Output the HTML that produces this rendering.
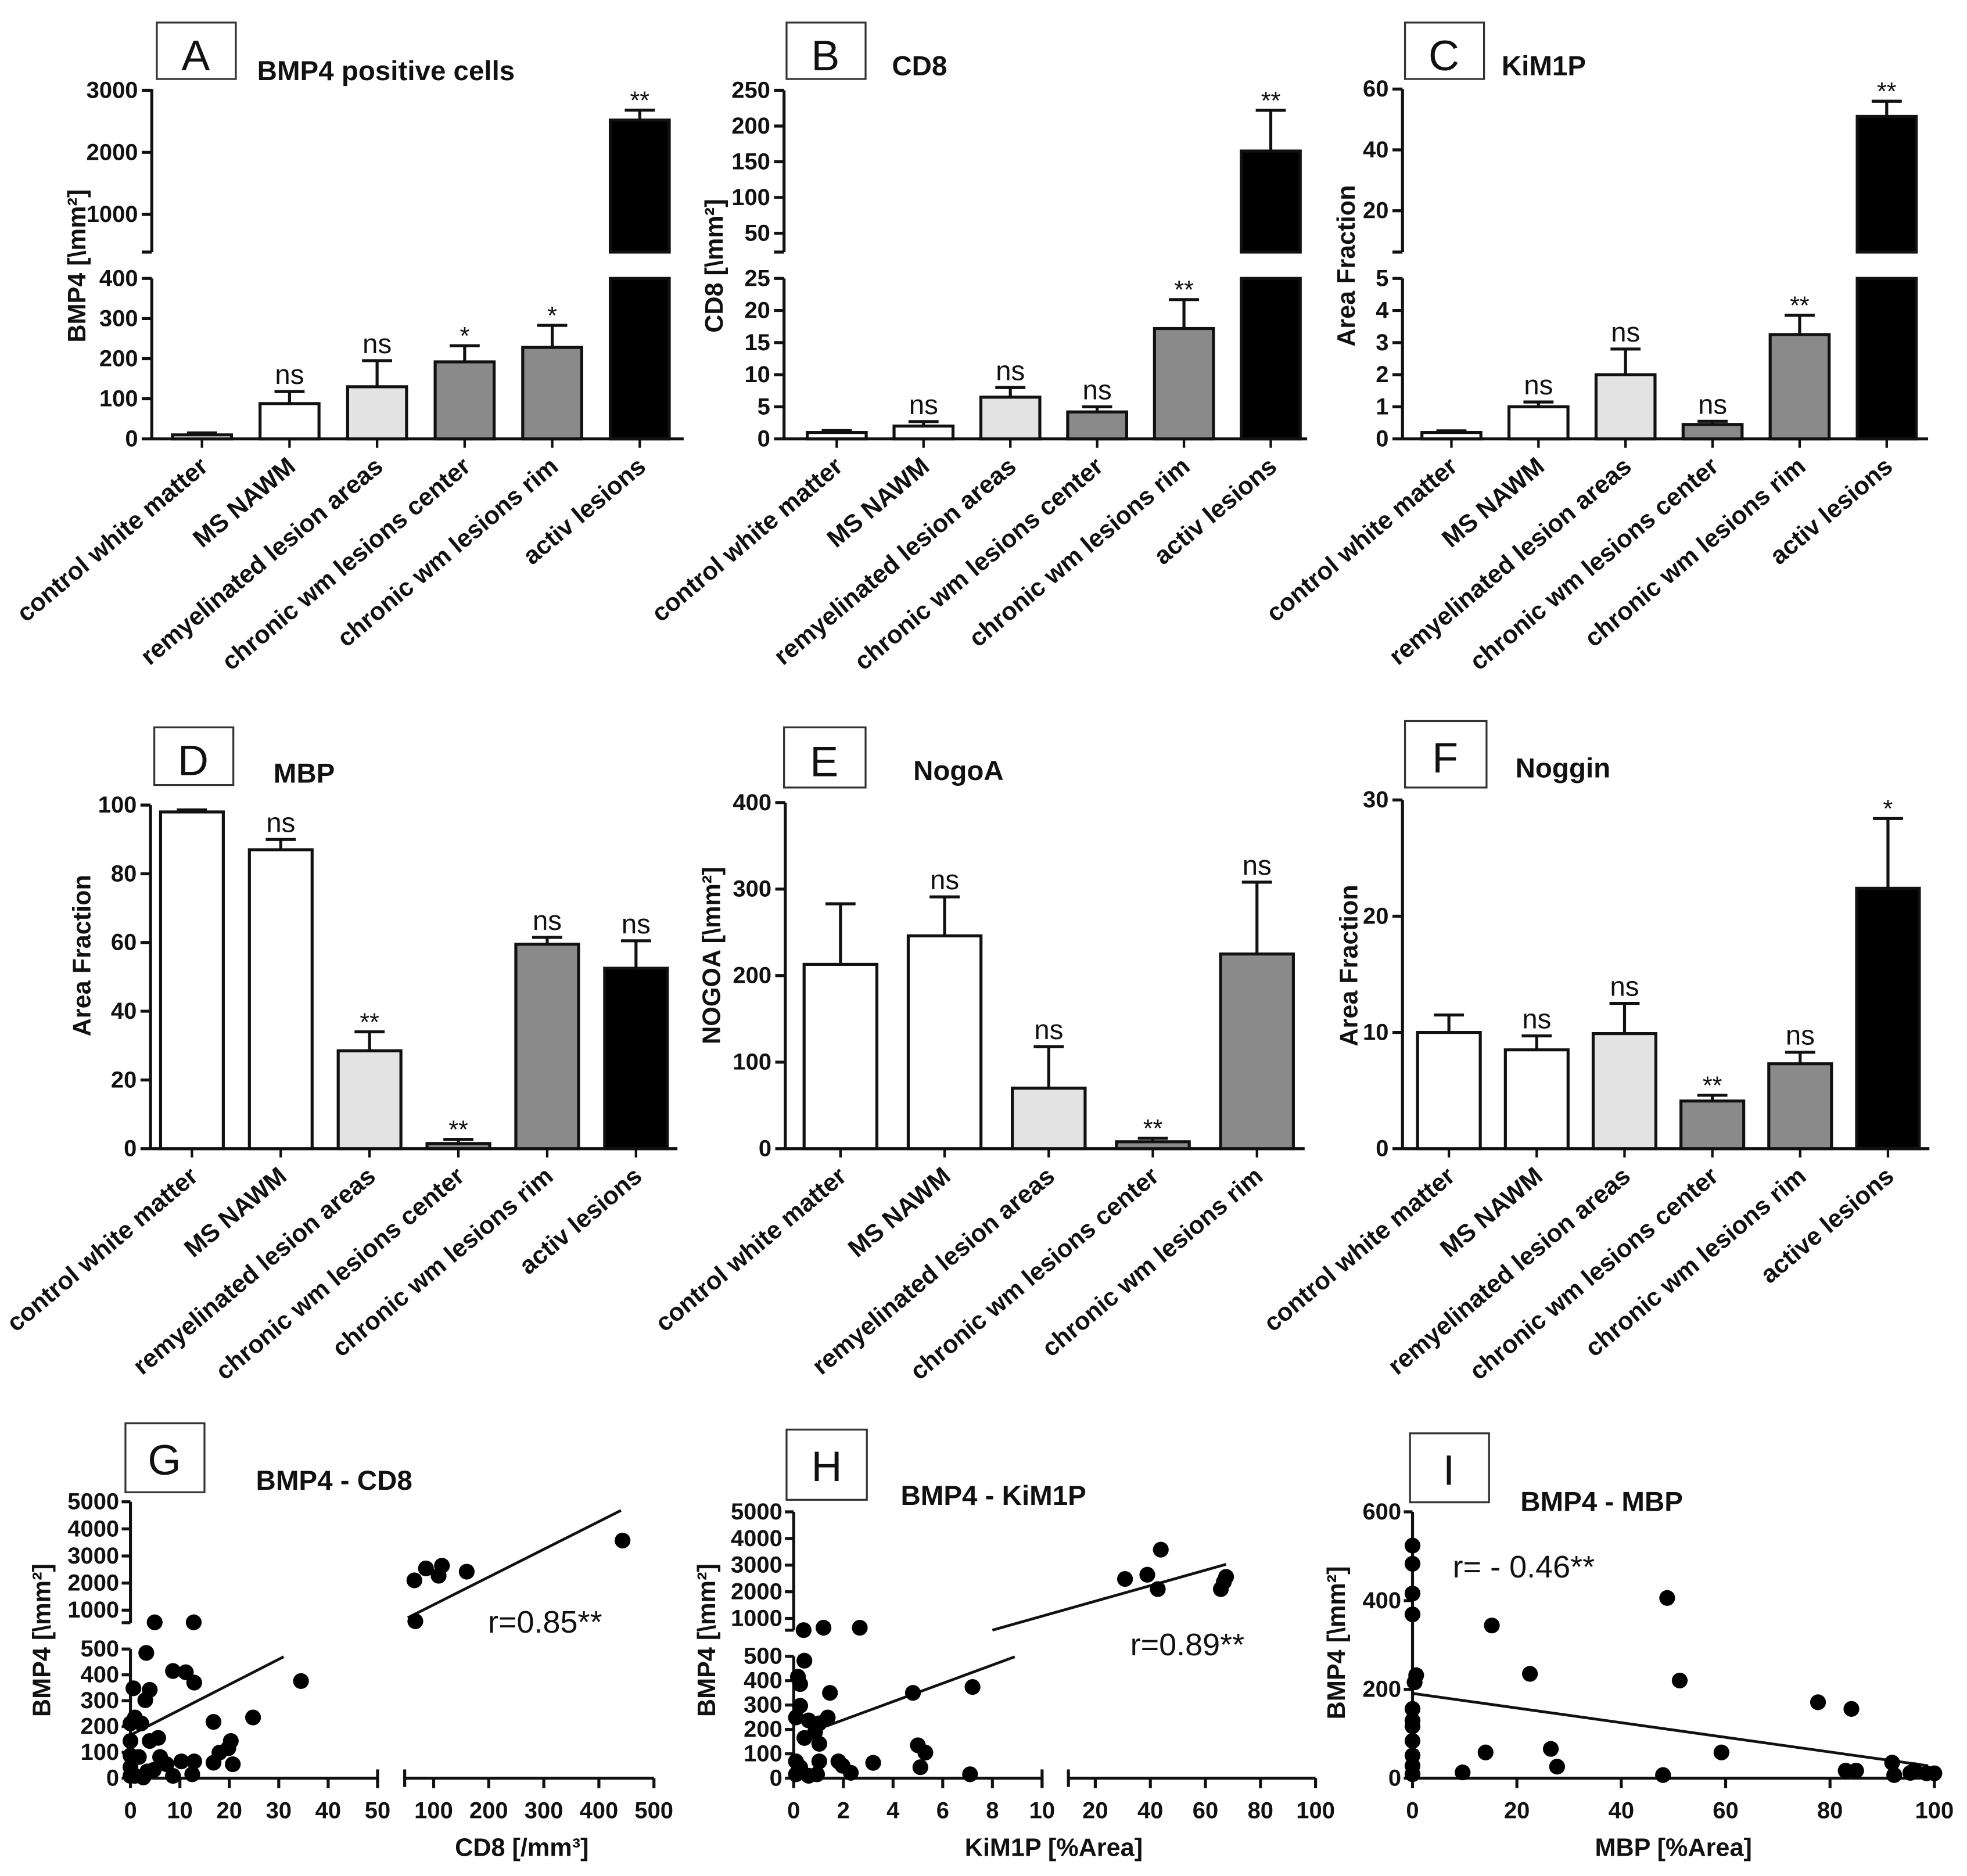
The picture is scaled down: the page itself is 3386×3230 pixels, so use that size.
<!DOCTYPE html>
<html><head><meta charset="utf-8"><style>
html,body{margin:0;padding:0;background:#fff;}
svg{display:block;}
text{font-family:"Liberation Sans",Arial,sans-serif;fill:#111;}
.tk{font-size:18.5px;font-weight:bold;}
.ttl{font-size:22px;font-weight:bold;}
.box{font-size:34px;}
.yt{font-size:20px;font-weight:bold;}
.cat{font-size:20px;font-weight:bold;}
</style></head><body>
<svg id="fig" width="3386" height="3230" viewBox="0 0 1568 1496" preserveAspectRatio="none" xmlns="http://www.w3.org/2000/svg">
<rect x="0" y="0" width="1568" height="1496" fill="#fff"/>
<g><rect x="125" y="18" width="63" height="45" fill="none" stroke="#333" stroke-width="1.5"/><text class="box" x="156" y="56" text-anchor="middle">A</text></g>
<text class="ttl" x="205" y="64">BMP4 positive cells</text>
<g><rect x="627" y="18" width="63" height="45" fill="none" stroke="#333" stroke-width="1.5"/><text class="box" x="658" y="56" text-anchor="middle">B</text></g>
<text class="ttl" x="711" y="60">CD8</text>
<g><rect x="1120" y="18" width="63" height="45" fill="none" stroke="#333" stroke-width="1.5"/><text class="box" x="1151" y="56" text-anchor="middle">C</text></g>
<text class="ttl" x="1197" y="60">KiM1P</text>
<g><rect x="123" y="580" width="63" height="46" fill="none" stroke="#333" stroke-width="1.5"/><text class="box" x="154" y="618" text-anchor="middle">D</text></g>
<text class="ttl" x="218" y="624">MBP</text>
<g><rect x="625" y="580" width="65" height="48" fill="none" stroke="#333" stroke-width="1.5"/><text class="box" x="657" y="619" text-anchor="middle">E</text></g>
<text class="ttl" x="728" y="622">NogoA</text>
<g><rect x="1120" y="575" width="65" height="53" fill="none" stroke="#333" stroke-width="1.5"/><text class="box" x="1152" y="616" text-anchor="middle">F</text></g>
<text class="ttl" x="1208" y="620">Noggin</text>
<g><rect x="100" y="1135" width="63" height="55" fill="none" stroke="#333" stroke-width="1.5"/><text class="box" x="131" y="1176" text-anchor="middle">G</text></g>
<text class="ttl" x="204" y="1188">BMP4 - CD8</text>
<g><rect x="627" y="1140" width="64" height="56" fill="none" stroke="#333" stroke-width="1.5"/><text class="box" x="659" y="1181" text-anchor="middle">H</text></g>
<text class="ttl" x="718" y="1200">BMP4 - KiM1P</text>
<g><rect x="1124" y="1143" width="63" height="55" fill="none" stroke="#333" stroke-width="1.5"/><text class="box" x="1155" y="1184" text-anchor="middle">I</text></g>
<text class="ttl" x="1212" y="1205">BMP4 - MBP</text>
<text class="yt" transform="translate(68,212) rotate(-90)" text-anchor="middle">BMP4 [\mm²]</text>
<text class="yt" transform="translate(576,212) rotate(-90)" text-anchor="middle">CD8 [\mm²]</text>
<text class="yt" transform="translate(1080,212) rotate(-90)" text-anchor="middle">Area Fraction</text>
<text class="yt" transform="translate(72,762) rotate(-90)" text-anchor="middle">Area Fraction</text>
<text class="yt" transform="translate(574,762) rotate(-90)" text-anchor="middle">NOGOA [\mm²]</text>
<text class="yt" transform="translate(1082,770) rotate(-90)" text-anchor="middle">Area Fraction</text>
<text class="yt" transform="translate(40,1308) rotate(-90)" text-anchor="middle">BMP4 [\mm²]</text>
<text class="yt" transform="translate(570,1308) rotate(-90)" text-anchor="middle">BMP4 [\mm²]</text>
<text class="yt" transform="translate(1072,1310) rotate(-90)" text-anchor="middle">BMP4 [\mm²]</text>
<text class="yt" x="416" y="1480" text-anchor="middle">CD8 [/mm³]</text>
<text class="yt" x="840" y="1480" text-anchor="middle">KiM1P [%Area]</text>
<text class="yt" x="1334" y="1480" text-anchor="middle">MBP [%Area]</text>
<text x="389" y="1302" style="font-size:25px">r=0.85**</text>
<text x="901" y="1320" style="font-size:25px">r=0.89**</text>
<text x="1158" y="1258" style="font-size:25px">r= - 0.46**</text>
</svg>
<script>
const catsA = ["control white matter","MS NAWM","remyelinated lesion areas","chronic wm lesions center","chronic wm lesions rim","activ lesions"];
const catsE = ["control white matter","MS NAWM","remyelinated lesion areas","chronic wm lesions center","chronic wm lesions rim"];
const catsF = ["control white matter","MS NAWM","remyelinated lesion areas","chronic wm lesions center","chronic wm lesions rim","active lesions"];
const valsA = [10, 88, 130, 192, 228, 2520];
const errA = [5, 30, 65, 40, 55, 160];
const sigA = ["", "ns", "ns", "*", "*", "**"];
const valsB = [1, 2, 6.5, 4.2, 17.2, 165];
const errB = [0.3, 0.7, 1.5, 0.8, 4.5, 57];
const sigB = ["", "ns", "ns", "ns", "**", "**"];
const valsC = [0.2, 1.0, 2.0, 0.45, 3.25, 51];
const errC = [0.05, 0.15, 0.8, 0.1, 0.6, 5];
const sigC = ["", "ns", "ns", "ns", "**", "**"];
const valsD = [98, 87, 28.5, 1.5, 59.5, 52.5];
const errD = [0.6, 3, 5.5, 1.2, 2, 8];
const sigD = ["", "ns", "**", "**", "ns", "ns"];
const valsE = [213, 246, 70, 8, 225];
const errE = [70, 45, 48, 4, 83];
const sigE = ["", "ns", "ns", "**", "ns"];
const valsF = [10, 8.5, 9.9, 4.1, 7.3, 22.4];
const errF = [1.5, 1.2, 2.6, 0.5, 1, 6];
const sigF = ["", "ns", "ns", "**", "ns", "*"];
const ticksALow = [0,100,200,300,400], ticksAUp = [1000,2000,3000];
const ticksBLow = [0,5,10,15,20,25], ticksBUp = [50,100,150,200,250];
const ticksCLow = [0,1,2,3,4,5], ticksCUp = [20,40,60];
const ticksD = [0,20,40,60,80,100], ticksE = [0,100,200,300,400], ticksF = [0,10,20,30];

const gX = [4.9,12.8,3.2,0.6,3.9,8.6,11.2,12.9,34.5,3,0.9,2.2,0,16.8,24.8,20.3,19.8,18,5.6,3.9,0,0,1.7,6,7.3,10.3,12.9,16.8,20.7,0,0.9,3.4,8.6,12.5,2.6,0,4.7,66.7,65,86,109,115,160,443];
const gY = [550,550,485,348,342,415,410,370,376,302,235,212,212,218,235,144,116,99,156,144,144,88,82,82,54,65,65,60,54,43,9,26,9,15,3,9,32,591,2100,2540,2270,2640,2420,3570];
const gLineLeft = [[0,167],[31,470]], gLineRight = [[53,720],[440,4680]];
const hX = [0.43,0.17,0.26,0.26,0.09,1.46,1.37,1.03,0.6,0.86,0.43,1.03,0.09,1.03,1.8,1.97,2.3,3.2,4.8,7.2,5,5.3,5.1,7.1,0.09,0.6,0.94,0.26,0.4,1.2,2.66,30.8,38.9,42.7,43.8,65.6,66.7,67.5];
const hY = [482,416,386,297,249,350,249,225,237,189,165,141,69,69,69,51,22,63,350,374,135,105,45,16,16,10,16,45,560,650,650,2480,2640,2100,3580,2100,2370,2560];
const hLineLeft = [[1.3,213],[8.9,498]], hLineRight = [[8,560],[67.5,3030]];
const iX = [0,0,0,0,0.7,0.4,0,0,0,0,0,0,0,9.6,14,15.2,22.5,26.5,27.7,48,48.8,51.2,59.2,77.7,84.1,83,85,91.9,92.3,96.2,95.4,98.5,100];
const iY = [524,483,416,369,232,216,156,130,117,84,51,28,9,13,58,344,235,66,26,7,406,220,58,171,156,17,17,35,7,18,12,11,11];
const iLine = [[0,191],[98.8,28]];
const gTicksXL=[0,10,20,30,40,50], gTicksXR=[100,200,300,400,500], gTicksYL=[0,100,200,300,400,500], gTicksYU=[1000,2000,3000,4000,5000];
const hTicksXL=[0,2,4,6,8,10], hTicksXR=[20,40,60,80,100];
const iTicksX=[0,20,40,60,80,100], iTicksY=[0,200,400,600];

const NS = "http://www.w3.org/2000/svg";
const svg = document.getElementById('fig');
function mk(tag, attrs){ const e=document.createElementNS(NS,tag); for(const k in attrs) e.setAttribute(k,attrs[k]); svg.appendChild(e); return e; }
function line(x1,y1,x2,y2,w){ return mk('line',{x1:x1,y1:y1,x2:x2,y2:y2,stroke:'#111','stroke-width':w||2.4}); }
const fills = ['#fff','#fff','#e3e3e3','#8a8a8a','#8a8a8a','#000'];

function barPanel(p, cats, vals, errs, sigs, name){
  const Y = v => (!p.up || v <= p.lowMax) ? p.base - v*p.lk : p.upRef - (v - p.upRefV)*p.uk;
  const lowTop = p.base - p.lowMax*p.lk;
  let a = line(p.ax, p.base, p.ax, lowTop);
  
  
  p.lowTicks.forEach(t=>{ const y=Y(t); line(p.ax-8,y,p.ax,y);
    const tx=mk('text',{x:p.ax-11,y:y+6,'text-anchor':'end',class:'tk'}); tx.textContent=t;
    
     });
  if(p.up){
    let u = line(p.ax, p.upBottom, p.ax, p.upTop);
    
    
    line(p.ax-8,p.upBottom,p.ax,p.upBottom);
    p.upTicks.forEach(t=>{ const y=Y(t); line(p.ax-8,y,p.ax,y);
      const tx=mk('text',{x:p.ax-11,y:y+6,'text-anchor':'end',class:'tk'}); tx.textContent=t;
      
       });
  }
  let xa = line(p.ax, p.base, p.xEnd, p.base);
  
  
  vals.forEach((v,i)=>{
    const cx = p.c0 + i*p.sp, w = p.bw;
    const col = p.colors ? p.colors[i] : fills[i];
    let topY;
    if(p.up && v > p.lowMax){
      const r1 = mk('rect',{x:cx-w/2,y:lowTop,width:w,height:p.base-lowTop,fill:col,stroke:'#111','stroke-width':2.4});
      
      
      topY = Y(v);
      const r2 = mk('rect',{x:cx-w/2,y:topY,width:w,height:p.upBottom-topY,fill:col,stroke:'#111','stroke-width':2.4});
      
      
    } else {
      topY = Y(v);
      const r = mk('rect',{x:cx-w/2,y:topY,width:w,height:Math.max(p.base-topY,1),fill:col,stroke:'#111','stroke-width':2.4});
      
      
    }
    const ey = Y(v + errs[i]);
    const e1 = line(cx, topY, cx, ey, 2.4);
    
    
    line(cx-12, ey, cx+12, ey, 2.4);
    line(cx, p.base, cx, p.base+7, 2);
    if(sigs[i]){
      const ns = sigs[i]==='ns';
      const s = mk('text',{x:cx,y:ey-(ns?6:1),'text-anchor':'middle',style:'font-size:'+(ns?'22px':'20px')});
      s.textContent = sigs[i];
      
      
    }
    const t = mk('text',{class:'cat','text-anchor':'end',transform:'translate('+(cx+6)+','+(p.base+24)+') rotate(-40)'});
    t.textContent = cats[i];
    
    
  });
}

barPanel({ax:121,base:350,lowMax:400,lk:0.32,up:true,upRefV:1000,upRef:171,uk:0.0495,upBottom:201,upTop:71,lowTicks:ticksALow,upTicks:ticksAUp,xEnd:545,c0:161,sp:69.8,bw:47}, catsA, valsA, errA, sigA, 'panel-a');
barPanel({ax:625,base:350,lowMax:25,lk:5.12,up:true,upRefV:50,upRef:186,uk:0.57,upBottom:201,upTop:72,lowTicks:ticksBLow,upTicks:ticksBUp,xEnd:1042,c0:667,sp:69.2,bw:47}, catsA, valsB, errB, sigB, 'panel-b');
barPanel({ax:1118,base:350,lowMax:5,lk:25.6,up:true,upRefV:20,upRef:168,uk:2.425,upBottom:201,upTop:71,lowTicks:ticksCLow,upTicks:ticksCUp,xEnd:1537,c0:1157,sp:69.4,bw:47}, catsA, valsC, errC, sigC, 'panel-c');
barPanel({ax:120,base:916,lowMax:100,lk:2.74,up:false,lowTicks:ticksD,xEnd:540,c0:153,sp:70.8,bw:50}, catsA, valsD, errD, sigD, 'panel-d');
barPanel({ax:626,base:916,lowMax:400,lk:0.69,up:false,lowTicks:ticksE,xEnd:1040,c0:670,sp:83,bw:58,colors:['#fff','#fff','#e3e3e3','#8a8a8a','#8a8a8a']}, catsE, valsE, errE, sigE, 'panel-e');
barPanel({ax:1118,base:916,lowMax:30,lk:9.27,up:false,lowTicks:ticksF,xEnd:1538,c0:1155,sp:70,bw:50}, catsF, valsF, errF, sigF, 'panel-f');

function scatter(p, xs, ys, lines, name){
  const X = v => (!p.xr || v <= p.xLowMax) ? p.ax + v*p.xk : p.xrRef + (v - p.xrRefV)*p.xrk;
  const Y = v => (!p.yu || v <= p.yLowMax) ? p.base - v*p.yk : p.yuRef - (v - p.yuRefV)*p.yuk;
  const yLowTop = Y(p.yLowMax);
  let a = line(p.ax,p.base,p.ax,yLowTop);
  
  
  p.yTicks.forEach(t=>{ const y=Y(t); line(p.ax-7,y,p.ax,y);
    const tx=mk('text',{x:p.ax-9,y:y+6,'text-anchor':'end',class:'tk'}); tx.textContent=t;
    
     });
  if(p.yu){
    let u=line(p.ax,p.yuBottom,p.ax,Y(p.yuTicks[p.yuTicks.length-1]));
    
    
    line(p.ax-7,p.yuBottom,p.ax,p.yuBottom);
    p.yuTicks.forEach(t=>{ const y=Y(t); line(p.ax-7,y,p.ax,y);
      const tx=mk('text',{x:p.ax-9,y:y+6,'text-anchor':'end',class:'tk'}); tx.textContent=t;
      
       });
  }
  const xl = X(p.xTicks[p.xTicks.length-1]);
  let xa=line(p.ax,p.base,xl,p.base);
  
  
  p.xTicks.forEach(t=>{ const x=X(t); line(x,p.base,x,p.base+8);
    const tx=mk('text',{x:x,y:p.base+32,'text-anchor':'middle',class:'tk'}); tx.textContent=t;
    
     });
  if(p.xr){
    line(xl,p.base-7,xl,p.base+7);
    const xrEnd = X(p.xrTicks[p.xrTicks.length-1]);
    let xb=line(p.xrStart,p.base,xrEnd,p.base);
    
    
    line(p.xrStart,p.base-7,p.xrStart,p.base+7);
    p.xrTicks.forEach(t=>{ const x=X(t); line(x,p.base,x,p.base+8);
      const tx=mk('text',{x:x,y:p.base+32,'text-anchor':'middle',class:'tk'}); tx.textContent=t;
      
       });
  }
  lines.forEach(L=>{
    const l=line(X(L[0][0]),Y(L[0][1]),X(L[1][0]),Y(L[1][1]),2.2);
    
    
  });
  xs.forEach((x,i)=>{
    const c=mk('circle',{cx:X(x),cy:Y(ys[i]),r:6.3,fill:'#000'});
    
    
  });
}

scatter({ax:104,base:1418,yLowMax:500,yk:0.206,yu:true,yuRefV:1000,yuRef:1284,yuk:0.0216,yuBottom:1294,yTicks:gTicksYL,yuTicks:gTicksYU,
  xk:3.94,xLowMax:50,xr:true,xrRefV:100,xrRef:345.7,xrk:0.439,xrStart:322.6,xTicks:gTicksXL,xrTicks:gTicksXR},
  gX, gY, [gLineLeft, gLineRight], 'panel-g');
scatter({ax:632.7,base:1418,yLowMax:500,yk:0.1944,yu:true,yuRefV:1000,yuRef:1290.6,yuk:0.02125,yuBottom:1300,yTicks:gTicksYL,yuTicks:gTicksYU,
  xk:19.8,xLowMax:10,xr:true,xrRefV:20,xrRef:873.1,xrk:2.195,xrStart:851.7,xTicks:hTicksXL,xrTicks:hTicksXR},
  hX, hY, [hLineLeft, hLineRight], 'panel-h');
scatter({ax:1126,base:1418,yLowMax:600,yk:0.354,yu:false,yTicks:iTicksY,xk:4.16,xLowMax:100,xr:false,xTicks:iTicksX},
  iX, iY, [iLine], 'panel-i');
</script>
</body></html>
